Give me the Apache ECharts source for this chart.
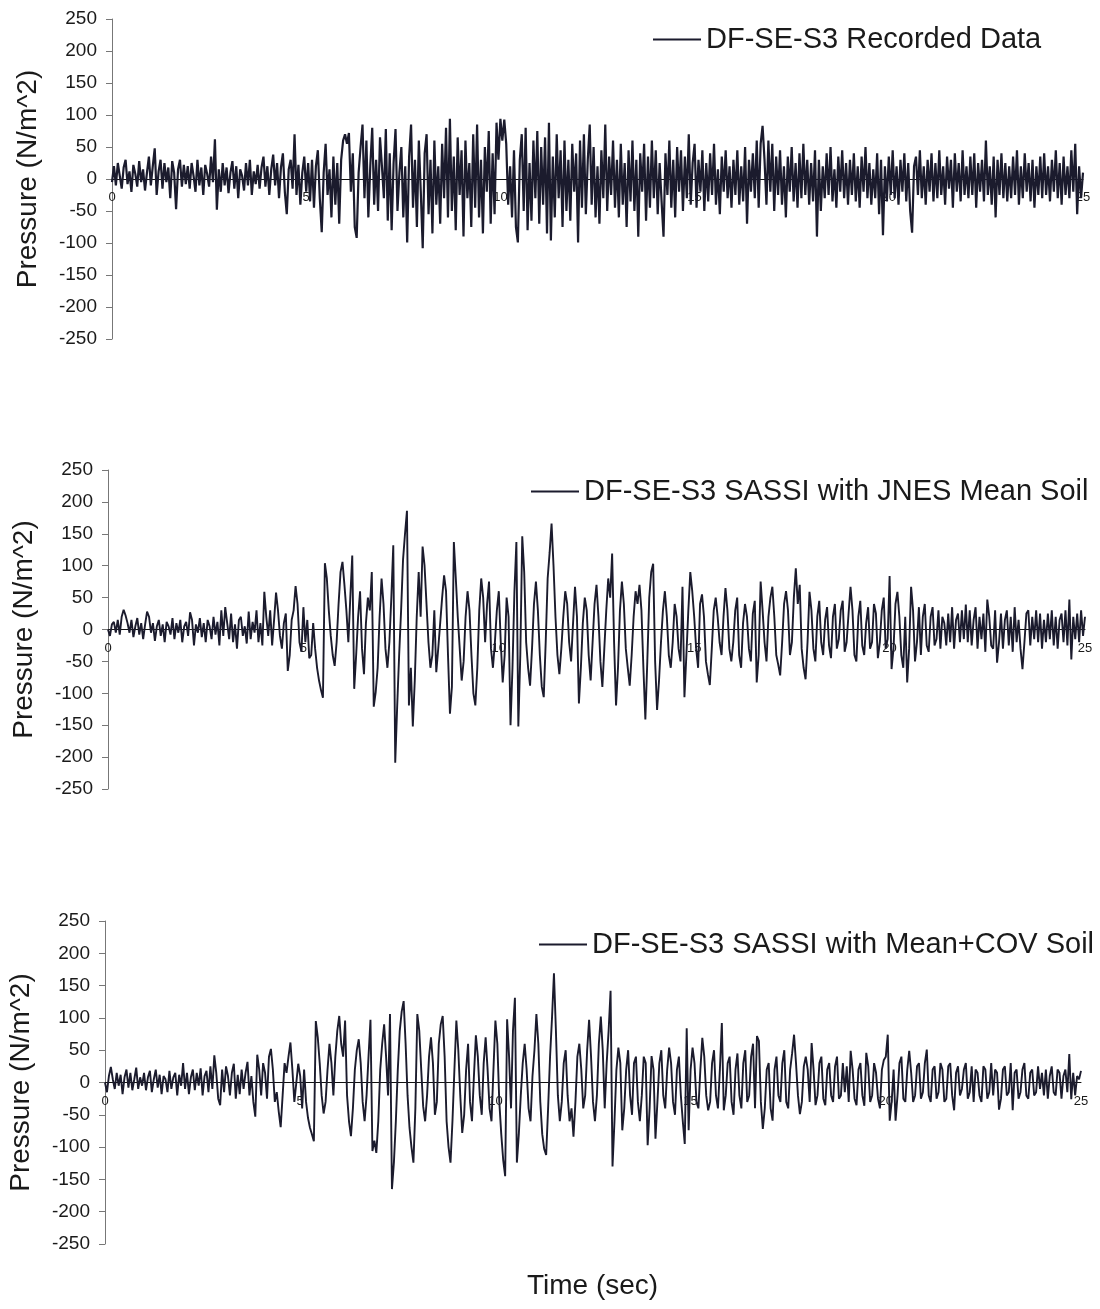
<!DOCTYPE html>
<html><head><meta charset="utf-8">
<script src="https://cdn.jsdelivr.net/npm/echarts@6/dist/echarts.min.js"></script>
<style>html,body{margin:0;padding:0;background:#fff}#c{width:1100px;height:1309px}</style>
</head><body><div id="c"></div>
<script>
// sampling step (seconds)
const DT = 0.05;
const X_TICKS = [0, 5, 10, 15, 20, 25];
const Y_TICKS = [-250, -200, -150, -100, -50, 0, 50, 100, 150, 200, 250];
const NAMES = ['DF-SE-S3 Recorded Data', 'DF-SE-S3 SASSI with JNES Mean Soil', 'DF-SE-S3 SASSI with Mean+COV Soil'];
const X_TITLE = 'Time (sec)';
const Y_TITLE = 'Pressure (N/m^2)';

// Recorded data (20 samples per second)
const recorded = [
-5,20,-10,25,5,-15,18,30,-8,12,-20,22,8,-12,28,-5,15,-18,10,35,
-10,20,48,-25,12,30,-15,25,-5,18,-30,28,10,-47,15,30,-12,22,-8,20,
-15,25,5,-20,30,-10,18,-25,22,8,-12,35,-5,62,-48,15,-20,25,-10,18,
-22,10,28,-15,20,-30,15,5,-18,25,-10,30,-25,12,-8,22,-15,18,35,-12,
20,-25,15,38,-10,25,-30,18,40,-20,-55,15,30,-15,70,-25,22,-40,10,35,
-20,25,-35,30,-45,20,45,-30,-83,10,55,-25,15,-60,35,-40,25,-70,30,60,
70,55,72,-20,40,-75,-92,10,50,85,-30,60,-60,20,80,-40,30,-50,65,20,
-30,78,-65,40,-80,25,78,-50,10,50,-60,20,-99,35,85,-45,30,-75,60,-20,
-108,40,70,-55,30,-85,60,-40,20,-70,55,-30,80,-60,94,-50,35,-80,65,-25,
45,-90,60,-30,25,-75,70,-45,85,-60,30,-85,50,-20,75,-70,40,-55,88,30,
94,60,93,55,-40,20,-60,45,-75,-99,30,70,-50,80,-80,25,-65,60,-30,75,
-70,50,-40,65,-85,88,-96,35,-60,70,-30,45,-75,60,-50,30,-65,55,-20,40,
-99,60,-45,70,-55,30,85,-40,50,-60,20,-70,45,-30,85,-50,35,-25,60,-45,
30,-60,55,-40,25,-75,45,-35,60,-50,30,-90,40,-20,55,-65,35,-45,60,-30,
45,-55,25,-35,-90,40,-25,60,-45,30,-60,50,-20,45,-50,35,-30,70,-40,25,
55,-45,30,-20,45,-50,25,-35,40,-25,55,-40,15,-55,35,-20,45,-30,20,-45,
30,-25,45,-40,20,-35,50,-70,30,-20,40,-30,60,-45,55,83,30,-40,60,-20,
55,-50,35,-25,45,-40,20,-60,35,-20,50,-35,25,-45,40,-30,55,-25,30,-40,
25,-35,45,-90,30,-50,20,-30,40,-25,50,-35,15,-45,35,-20,45,-30,25,-40,
30,-25,40,-35,20,-45,35,-20,50,-30,25,-40,15,-30,40,-55,30,-88,20,-35,
35,-25,45,-30,20,-40,30,-20,40,-35,25,-50,-84,20,35,-25,45,-30,20,-40,
30,-20,40,-35,25,-30,45,-25,20,-40,35,-15,30,-45,40,-20,25,-35,45,-25,
20,-30,35,-25,40,-45,25,-20,30,-35,60,-25,20,-40,35,-60,30,-25,40,-30,
25,-35,20,-30,35,-25,45,-40,20,-30,40,-20,25,-35,30,-45,20,-25,35,-30,
40,-25,20,-35,30,-20,45,-30,25,-40,35,-25,20,-30,45,-20,55,-55,20,-30,
10];

// SASSI with JNES mean soil
const jnesMean = [
0,-10,8,12,-5,15,-8,20,31,22,10,-5,15,-12,5,18,-8,10,-15,8,
28,20,-5,10,-18,5,15,-10,8,-20,12,5,-8,18,-15,10,-5,15,-20,5,
12,-10,27,15,-25,8,-5,18,-12,10,-20,15,5,-15,20,-8,12,-25,30,-10,
35,10,-15,25,-20,8,-30,15,20,-10,5,-22,28,-15,12,-5,30,-20,10,-25,
59,20,-10,30,-25,15,58,30,-10,-30,10,25,-65,-40,15,30,68,40,-20,-35,
35,-20,15,-45,-40,10,-30,-60,-80,-95,-107,104,80,30,-10,-40,-57,-20,40,90,
106,70,30,-20,50,116,-93,-40,20,60,-30,-70,10,50,30,90,-121,-98,-60,20,
80,40,-30,-60,-20,50,132,-209,-120,-40,30,110,150,186,-119,-60,-152,-80,20,90,
20,130,100,40,-20,-60,-40,30,-67,-30,10,50,85,60,-40,-132,-90,137,80,20,
-30,-80,-50,20,60,30,-40,-100,-119,-60,30,80,50,-20,40,75,-30,-60,-20,30,
60,-20,-83,-40,50,20,-150,-60,60,137,-152,-40,146,90,-20,-60,-88,-30,40,75,
30,-40,-90,-106,-20,80,120,166,100,20,-40,-70,-30,20,60,40,-20,-50,10,67,
20,-116,-60,10,50,30,-40,-80,-20,40,70,20,-50,-90,-30,30,80,50,119,-20,
-119,-60,30,75,40,-30,-60,-88,-40,20,60,40,70,30,-60,-141,-50,50,90,103,
-50,-126,-80,-20,30,60,20,-40,-60,-20,40,20,-30,-50,67,-106,-40,30,90,60,
20,-30,-60,40,55,20,-50,-70,-87,-30,30,50,20,-20,-40,20,65,30,-30,-50,
-20,30,50,-40,-60,10,40,20,-30,-50,25,45,-83,-40,75,30,-20,-50,20,50,
67,20,-40,-55,-72,-20,40,60,30,-40,-20,50,96,40,70,-30,-60,-78,-20,59,
30,-30,-50,20,45,-20,-40,15,35,-25,-45,20,40,-30,-15,30,45,-35,-20,25,
67,30,-40,-50,20,45,-25,-40,10,35,-30,-20,40,25,-45,-20,30,50,-30,-15,
84,-62,-30,40,59,20,-40,-60,20,-83,-30,67,30,-50,-20,35,-40,20,40,-25,
-35,20,35,-25,-15,30,-30,20,10,-25,25,-20,35,-30,15,25,-20,30,-15,39,
-20,30,-25,15,35,-30,20,-15,25,-35,47,20,-25,-30,30,-52,-20,25,-30,15,
30,-25,20,-35,35,-20,15,-30,-62,-20,25,30,-25,20,-15,30,-20,25,-30,15,
-20,25,-15,30,-25,20,-30,15,25,-20,30,-25,47,-47,20,-15,25,-20,30,-10,
20];

// SASSI with mean+COV soil
const meanCov = [
0,-15,10,24,5,-10,15,-5,12,-18,8,20,-8,15,-12,5,23,-10,8,-5,
15,-12,8,18,-15,5,20,-8,12,-18,10,5,-15,18,-10,8,15,-20,12,-5,
30,-10,15,-18,8,20,-12,15,-5,22,-20,10,18,-15,25,-10,42,15,-25,-35,
20,-15,25,10,-20,15,29,-25,12,-18,20,-10,15,32,-20,10,-30,-53,43,20,
-20,30,15,-25,40,52,20,-30,-15,-45,-69,-20,30,15,40,62,20,-30,-27,29,
10,-40,20,-30,-55,-70,-80,-91,95,70,30,-20,-48,-30,20,60,30,-20,40,80,
103,60,40,96,-20,-60,-83,-40,20,50,67,30,-30,-60,-20,40,97,-106,-90,-109,
-60,20,60,90,40,-20,106,-165,-124,-60,20,80,110,126,60,-20,-70,-100,-124,-40,
106,80,20,-37,-60,-20,40,70,30,-50,-30,60,90,103,40,-60,-100,-124,-60,20,
96,50,-20,-78,-50,20,60,-30,-60,10,73,40,-20,-50,30,70,20,-40,-60,20,
96,60,-30,-80,-120,-145,98,40,-40,80,131,-124,-80,-20,30,60,20,-40,-60,10,
50,106,60,-30,-80,-103,-112,-40,40,100,169,80,-20,-60,-30,30,50,-20,-60,-40,
-84,-30,40,60,20,-40,-20,50,97,40,-30,-60,-20,60,102,50,-40,30,80,142,
-130,-60,20,54,30,-74,-40,20,50,-20,-50,30,40,-30,-60,-20,40,30,-97,-40,
41,20,-87,-30,30,50,-20,-40,20,54,30,-30,-50,20,40,-20,-60,-95,84,-74,
20,54,30,-30,-40,20,69,40,-20,-43,-30,30,50,-20,-40,20,92,-43,-20,30,
40,-30,-50,20,45,-20,-40,30,50,-30,-20,40,60,-40,72,64,-30,-72,-40,20,
30,-40,-59,20,40,-20,-30,30,50,-30,-40,20,45,74,30,-20,-49,-30,25,40,
20,-30,61,20,-35,-20,30,40,-25,-35,20,30,-20,-30,25,40,-25,-20,30,-15,
25,-30,49,20,-25,-35,20,30,-20,-36,46,25,-30,-20,30,15,-25,-40,20,35,
40,74,-59,-30,20,-59,-20,30,40,-25,-30,20,49,15,-30,-20,25,30,-25,-15,
30,51,-20,-30,20,25,-25,-15,30,20,-30,-25,25,30,-20,-43,15,25,-20,-10,
20,30,-25,-15,25,-30,20,15,-20,-30,25,20,-25,-15,30,-20,20,15,-42,-25,
20,25,-20,-15,30,-43,15,20,-25,-15,20,30,-20,-25,15,20,-20,-15,25,-10,
15,-20,20,-25,10,25,-15,-20,20,15,-25,10,20,-15,44,-26,15,-20,10,5,
18];

const SERIES_VALUES = [recorded, jnesMean, meanCov];
const FONT = '"Liberation Sans", Arial, sans-serif';
const LINE_COLOR = '#1b1b2d';
const TEXT_COLOR = '#1a1a1a';

const grids = [
  {left: 112, top: 19, width: 971, height: 320, outerBoundsMode: 'none', containLabel: false},
  {left: 108, top: 470, width: 977, height: 319, outerBoundsMode: 'none', containLabel: false},
  {left: 105, top: 921, width: 976, height: 323, outerBoundsMode: 'none', containLabel: false}
];
const legendPos = [
  {left: 648, top: 20},
  {left: 526, top: 472},
  {left: 534, top: 925}
];

const option = {
  animation: false,
  backgroundColor: '#fff',
  textStyle: {fontFamily: FONT},
  grid: grids,
  graphic: [{
    type: 'text', left: 527, top: 1272,
    style: {text: X_TITLE, font: '28px ' + FONT, fill: TEXT_COLOR}
  }],
  xAxis: grids.map((g, i) => ({
    type: 'value', gridIndex: i, position: 'bottom',
    min: X_TICKS[0], max: X_TICKS[X_TICKS.length - 1], interval: 5,
    offset: -g.height / 2,
    axisLine: {show: true, onZero: false, lineStyle: {color: '#111', width: 1}},
    axisTick: {show: false},
    splitLine: {show: false},
    axisLabel: {fontSize: 13, color: TEXT_COLOR, margin: 12, fontFamily: FONT, hideOverlap: false}
  })),
  yAxis: grids.map((g, i) => ({
    type: 'value', gridIndex: i, min: Y_TICKS[0], max: Y_TICKS[Y_TICKS.length - 1], interval: 50,
    axisLine: {show: true, onZero: false, lineStyle: {color: '#777', width: 1}},
    axisTick: {show: true, inside: false, length: 6, lineStyle: {color: '#777'}},
    splitLine: {show: false},
    axisLabel: {fontSize: 19, color: TEXT_COLOR, margin: 15, fontFamily: FONT, hideOverlap: false},
    name: Y_TITLE, nameLocation: 'middle', nameRotate: 90, nameGap: 70,
    nameTextStyle: {fontSize: 28, color: TEXT_COLOR, fontFamily: FONT}
  })),
  legend: legendPos.map((p, i) => ({
    data: [NAMES[i]], left: p.left, top: p.top, orient: 'horizontal',
    icon: 'rect', itemWidth: 48, itemHeight: 2, itemGap: 8,
    textStyle: {fontSize: 29, color: TEXT_COLOR, fontFamily: FONT}
  })),
  series: SERIES_VALUES.map((vals, i) => ({
    name: NAMES[i], type: 'line', xAxisIndex: i, yAxisIndex: i,
    showSymbol: false, symbol: 'none', sampling: null,
    lineStyle: {color: LINE_COLOR, width: i === 0 ? 2.2 : 1.9},
    itemStyle: {color: LINE_COLOR},
    data: vals.map((v, k) => [+(k * DT).toFixed(2), v])
  }))
};
echarts.init(document.getElementById('c'), null, {renderer: 'canvas'}).setOption(option);
</script></body></html>
